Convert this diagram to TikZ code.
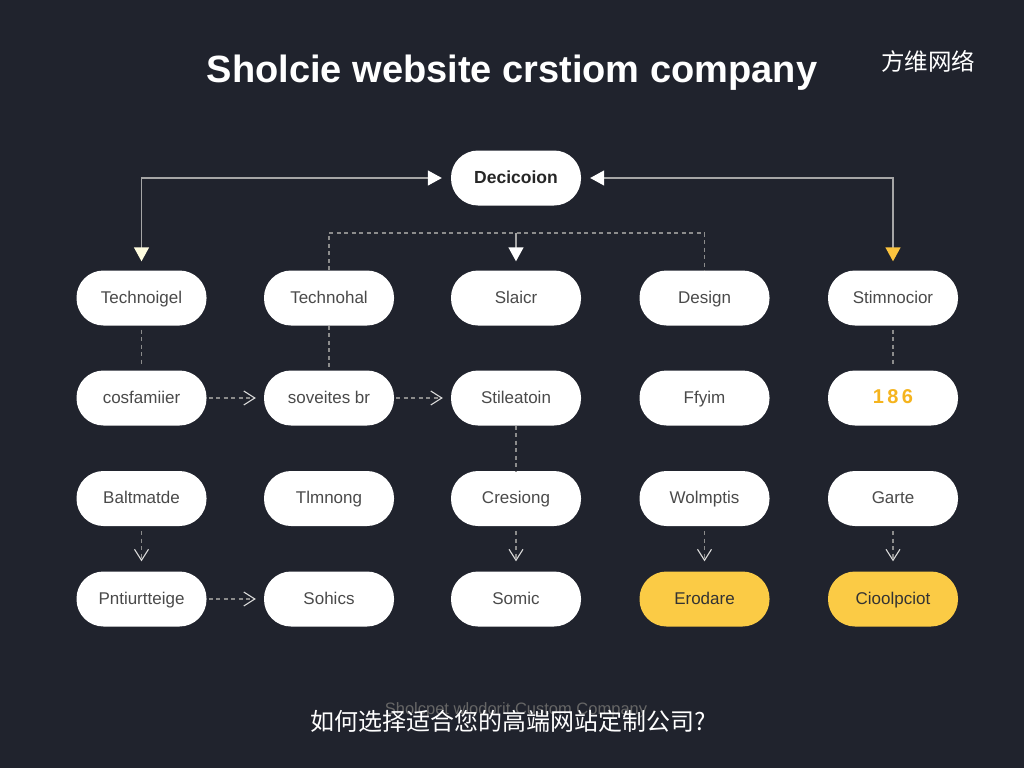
\documentclass[tikz,border=0pt]{standalone}
\usepackage{xcolor}
\usepackage{fontspec}
\setmainfont{Liberation Sans}
\setsansfont{Liberation Sans}
\newfontfamily\cjk{Noto Sans CJK SC}
\usetikzlibrary{arrows.meta}
\definecolor{slate}{HTML}{20232D}
\definecolor{pillink}{HTML}{4A4A4A}
\definecolor{honey}{HTML}{FBCB45}
\definecolor{amber}{HTML}{F5B41E}
\definecolor{cream}{HTML}{FFFDE0}
\def\pilltext#1{\textsf{#1}}

\begin{document}
\begin{tikzpicture}[x=1pt,y=-1pt]
    \tikzstyle{pill}=[rectangle,rounded corners=27pt,fill=white,minimum width=130pt,minimum height=55pt,inner sep=0pt,text=pillink,text height=13pt,text depth=3pt,font=\fontsize{17}{20}\selectfont]
    \tikzstyle{hot}=[pill,fill=honey,text=black!80]
    \tikzstyle{solidlink}=[draw=black!35,line width=1.4pt]
    \tikzstyle{dashlink}=[draw=black!45,line width=1.1pt,dash pattern=on 4pt off 3.5pt]
    \tikzstyle{barb}=[-{Straight Barb[length=11pt,width=14pt,color=black!15]}]
    \useasboundingbox (0,0) rectangle (1024,768);
    \fill[slate] (0,0) rectangle (1024,768);
    \node[text=white,font=\bfseries\fontsize{38}{44}\selectfont] (title) at (512,73) {Sholcie website crstiom company};
    \node[text=white,font=\cjk\fontsize{23.5}{28}\selectfont] (brand) at (928,61) {方维网络};
    \node[pill,text=black!85,font=\bfseries\fontsize{17.5}{20}\selectfont] (decision) at (516,178) {\pilltext{Decicoion}};
    % first row
    \node[pill] (a1) at (141.5,298) {\pilltext{Technoigel}};
    \node[pill] (a2) at (329,298) {\pilltext{Technohal}};
    \node[pill] (a3) at (516,298) {\pilltext{Slaicr}};
    \node[pill] (a4) at (704.5,298) {\pilltext{Design}};
    \node[pill] (a5) at (893,298) {\pilltext{Stimnocior}};
    % second row
    \node[pill] (b1) at (141.5,398) {\pilltext{cosfamiier}};
    \node[pill] (b2) at (329,398) {\pilltext{soveites br}};
    \node[pill] (b3) at (516,398) {\pilltext{Stileatoin}};
    \node[pill] (b4) at (704.5,398) {\pilltext{Ffyim}};
    \node[pill,text=amber,font=\bfseries\fontsize{20}{22}\selectfont] (b5) at (893,398) {\pilltext{1\,8\,6}};
    % third row
    \node[pill] (c1) at (141.5,498.5) {\pilltext{Baltmatde}};
    \node[pill] (c2) at (329,498.5) {\pilltext{Tlmnong}};
    \node[pill] (c3) at (516,498.5) {\pilltext{Cresiong}};
    \node[pill] (c4) at (704.5,498.5) {\pilltext{Wolmptis}};
    \node[pill] (c5) at (893,498.5) {\pilltext{Garte}};
    % last row
    \node[pill] (d1) at (141.5,599) {\pilltext{Pntiurtteige}};
    \node[pill] (d2) at (329,599) {\pilltext{Sohics}};
    \node[pill] (d3) at (516,599) {\pilltext{Somic}};
    \node[hot] (d4) at (704.5,599) {\pilltext{Erodare}};
    \node[hot] (d5) at (893,599) {\pilltext{Cioolpciot}};
    \coordinate (bus) at (516,233);
    % solid arrows from the top pill
    \draw[solidlink,{Triangle[length=14pt,width=15pt,color=cream]}-{Triangle[length=14pt,width=15pt,color=white]},shorten <=9pt,shorten >=9pt] (a1.north) |- (decision.west);
    \draw[solidlink,{Triangle[length=14pt,width=15pt,color=honey!90!orange]}-{Triangle[length=14pt,width=15pt,color=white]},shorten <=9pt,shorten >=9pt] (a5.north) |- (decision.east);
    \draw[solidlink,-{Triangle[length=14pt,width=15pt,color=white]},shorten >=9pt] (bus) -- (a3.north);
    % dashed bus
    \draw[dashlink] (a2.north) |- (bus) -| (a4.north);
    % plain dashes
    \draw[dashlink,shorten <=4pt,shorten >=4pt] (a1.south) -- (b1.north);
    \draw[dashlink] (a2.south) -- (b2.north);
    \draw[dashlink,shorten <=4pt,shorten >=4pt] (a5.south) -- (b5.north);
    \draw[dashlink] (b3.south) -- (c3.north);
    % dashes with open tips
    \draw[dashlink,barb,shorten <=2pt,shorten >=8pt] (b1.east) -- (b2.west);
    \draw[dashlink,barb,shorten <=2pt,shorten >=8pt] (b2.east) -- (b3.west);
    \draw[dashlink,barb,shorten <=2pt,shorten >=8pt] (d1.east) -- (d2.west);
    \draw[dashlink,barb,shorten <=5pt,shorten >=10pt] (c1.south) -- (d1.north);
    \draw[dashlink,barb,shorten <=5pt,shorten >=10pt] (c3.south) -- (d3.north);
    \draw[dashlink,barb,shorten <=5pt,shorten >=10pt] (c4.south) -- (d4.north);
    \draw[dashlink,barb,shorten <=5pt,shorten >=10pt] (c5.south) -- (d5.north);
    % caption
    \node[text=black!60,font=\fontsize{16.5}{18}\selectfont] (ghost) at (516,710) {Sholcpet wlodorit Custom Company};
    \node[text=white,font=\cjk\fontsize{24}{28}\selectfont] (caption) at (508,721) {如何选择适合您的高端网站定制公司?};
\end{tikzpicture}
\end{document}
